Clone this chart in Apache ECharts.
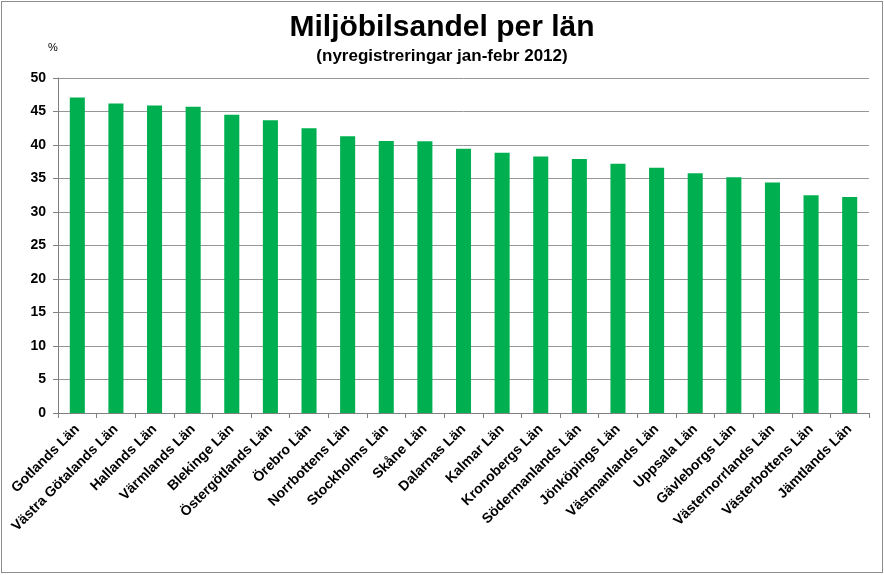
<!DOCTYPE html>
<html><head><meta charset="utf-8">
<script src="https://cdn.jsdelivr.net/npm/echarts@6/dist/echarts.min.js"></script>
<style>html,body{margin:0;padding:0;background:#fff}
#c{position:absolute;left:0;top:0;width:884px;height:575px}
#b{position:absolute;left:1px;top:1px;width:880px;height:570px;border:1px solid #8c8c8c;pointer-events:none}</style>
</head><body><div id="c"></div><div id="b"></div>
<script>
const categories = ["Gotlands Län","Västra Götalands Län","Hallands Län","Värmlands Län","Blekinge Län","Östergötlands Län","Örebro Län","Norrbottens Län","Stockholms Län","Skåne Län","Dalarnas Län","Kalmar Län","Kronobergs Län","Södermanlands Län","Jönköpings Län","Västmanlands Län","Uppsala Län","Gävleborgs Län","Västernorrlands Län","Västerbottens Län","Jämtlands Län"];
const values = [47.1,46.2,45.9,45.7,44.5,43.7,42.5,41.3,40.6,40.55,39.45,38.85,38.3,37.9,37.2,36.6,35.8,35.2,34.4,32.5,32.25];
const yTicks = [0,5,10,15,20,25,30,35,40,45,50];

const chart = echarts.init(document.getElementById('c'));
const font = '"Liberation Sans", Arial, sans-serif';
chart.setOption({
  animation:false,
  backgroundColor:'#fff',
  title:[
    {text:'Miljöbilsandel per län', left:'center', top:8, textStyle:{fontFamily:font,fontSize:30,fontWeight:'bold',color:'#000'}},
    {text:'(nyregistreringar jan-febr 2012)', left:'center', top:43, textStyle:{fontFamily:font,fontSize:17,fontWeight:'bold',color:'#000'}},
    {text:'%', left:43, top:37, textStyle:{fontFamily:font,fontSize:11,fontWeight:'normal',color:'#000'}}
  ],
  grid:{left:58,right:15,top:78,bottom:162,containLabel:false},
  xAxis:{type:'category',data:categories,
    axisLine:{lineStyle:{color:'#808080',width:1}},
    axisTick:{show:true,alignWithLabel:false,length:5,lineStyle:{color:'#808080'}},
    axisLabel:{rotate:45,interval:0,margin:14,fontFamily:font,fontSize:14,fontWeight:'bold',color:'#000'}},
  yAxis:{type:'value',min:0,max:50,interval:5,
    axisLine:{show:true,lineStyle:{color:'#808080'}},
    axisTick:{show:true,length:5,lineStyle:{color:'#808080'}},
    splitLine:{lineStyle:{color:'#969696',width:1}},
    axisLabel:{margin:12,fontFamily:font,fontSize:14,fontWeight:'bold',color:'#000',
      formatter:v=>yTicks.includes(v)?String(v):''}},
  series:[{type:'bar',data:values,barWidth:'39%',itemStyle:{color:'#00b050'}}]
});
</script></body></html>
